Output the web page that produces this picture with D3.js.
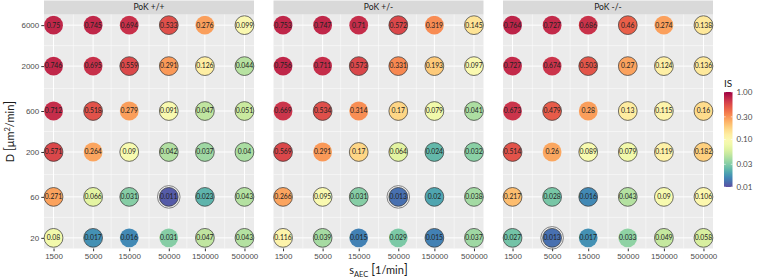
<!DOCTYPE html>
<html>
<head>
<meta charset="utf-8">
<script src="https://cdn.jsdelivr.net/npm/d3@7"></script>
<style>
  body { margin: 0; background: #fff; }
  svg { display: block; font-family: Lato, "DejaVu Sans", sans-serif; }
</style>
</head>
<body>
<div id="chart"></div>
<script>
// s_AEC values (columns) and D values (rows, top to bottom)
const sAEC = [1500, 5000, 15000, 50000, 150000, 500000];
const D = [6000, 2000, 600, 200, 60, 20];
const panels = ["PoK +/+", "PoK +/-", "PoK -/-"];

const isPP = [
  [0.75, 0.745, 0.694, 0.533, 0.276, 0.099],
  [0.746, 0.695, 0.559, 0.291, 0.126, 0.044],
  [0.712, 0.518, 0.279, 0.091, 0.047, 0.051],
  [0.571, 0.264, 0.09, 0.042, 0.037, 0.04],
  [0.271, 0.066, 0.031, 0.011, 0.023, 0.043],
  [0.08, 0.017, 0.016, 0.031, 0.047, 0.043]
];
const isPM = [
  [0.753, 0.747, 0.71, 0.572, 0.319, 0.145],
  [0.756, 0.711, 0.573, 0.331, 0.193, 0.097],
  [0.669, 0.534, 0.314, 0.17, 0.079, 0.041],
  [0.569, 0.291, 0.17, 0.064, 0.024, 0.032],
  [0.266, 0.095, 0.031, 0.013, 0.02, 0.038],
  [0.116, 0.039, 0.015, 0.029, 0.015, 0.037]
];
const isMM = [
  [0.764, 0.727, 0.686, 0.46, 0.274, 0.138],
  [0.727, 0.674, 0.503, 0.27, 0.124, 0.136],
  [0.673, 0.479, 0.28, 0.13, 0.115, 0.16],
  [0.514, 0.26, 0.089, 0.079, 0.119, 0.182],
  [0.217, 0.028, 0.016, 0.043, 0.09, 0.106],
  [0.027, 0.013, 0.017, 0.033, 0.049, 0.058]
];
// cells drawn with a black outline
const outlined = [
  [0, 0, 0, 1, 0, 1],
  [0, 0, 1, 1, 1, 1],
  [0, 1, 0, 1, 1, 1],
  [1, 0, 1, 1, 1, 1],
  [1, 1, 1, 1, 1, 1],
  [1, 1, 0, 0, 1, 1]
];
const legendTicks = [1, 0.3, 0.1, 0.03, 0.01];

const values = [isPP, isPM, isMM];

const width = 758, height = 280;
const panelW = 210, panelTop = 14.5, panelBottom = 248.5, stripH = 14;
const panelX = [44, 273.5, 503];

const svg = d3.select("#chart").append("svg")
  .attr("width", width).attr("height", height);

// log scales with 5% expansion like ggplot
function expanded(lo, hi) {
  const a = Math.log10(lo), b = Math.log10(hi), e = (b - a) * 0.05;
  return [Math.pow(10, a - e), Math.pow(10, b + e)];
}
const y = d3.scaleLog(expanded(20, 6000), [panelBottom, panelTop]);
const color = d3.scaleSequentialLog(t => d3.interpolateSpectral(1 - t)).domain([0.01, 1]);

function geoMid(a, b) { return Math.sqrt(a * b); }
const xMinor = d3.pairs(sAEC).map(p => geoMid(p[0], p[1]));
const yMinor = d3.pairs(D).map(p => geoMid(p[0], p[1]));

panels.forEach((name, pi) => {
  const x0 = panelX[pi];
  const x = d3.scaleLog(expanded(1500, 500000), [x0, x0 + panelW]);
  const g = svg.append("g");

  g.append("rect").attr("x", x0).attr("y", panelTop)
    .attr("width", panelW).attr("height", panelBottom - panelTop).attr("fill", "#ebebeb");

  // strip
  g.append("rect").attr("x", x0).attr("y", panelTop - stripH)
    .attr("width", panelW).attr("height", stripH).attr("fill", "#d9d9d9");
  g.append("text").attr("x", x0 + panelW / 2).attr("y", panelTop - stripH / 2)
    .attr("dy", "0.35em").attr("text-anchor", "middle")
    .attr("font-size", 8.5).attr("fill", "#1a1a1a").text(name);

  // grid
  g.selectAll(".xminor").data(xMinor).join("line")
    .attr("x1", d => x(d)).attr("x2", d => x(d))
    .attr("y1", panelTop).attr("y2", panelBottom)
    .attr("stroke", "#fff").attr("stroke-width", 0.5);
  g.selectAll(".yminor").data(yMinor).join("line")
    .attr("y1", d => y(d)).attr("y2", d => y(d))
    .attr("x1", x0).attr("x2", x0 + panelW)
    .attr("stroke", "#fff").attr("stroke-width", 0.5);
  g.selectAll(".xmajor").data(sAEC).join("line")
    .attr("x1", d => x(d)).attr("x2", d => x(d))
    .attr("y1", panelTop).attr("y2", panelBottom)
    .attr("stroke", "#fff").attr("stroke-width", 1);
  g.selectAll(".ymajor").data(D).join("line")
    .attr("y1", d => y(d)).attr("y2", d => y(d))
    .attr("x1", x0).attr("x2", x0 + panelW)
    .attr("stroke", "#fff").attr("stroke-width", 1);

  // x axis
  const xa = g.append("g")
    .attr("transform", `translate(0,${panelBottom})`)
    .call(d3.axisBottom(x).tickValues(sAEC).tickFormat(d => d).tickSize(2.75).tickPadding(2));
  xa.select(".domain").remove();
  xa.selectAll("line").attr("stroke", "#333");
  xa.selectAll("text").attr("fill", "#4d4d4d").attr("font-size", 8).attr("font-family", null);

  if (pi === 0) {
    const ya = g.append("g")
      .attr("transform", `translate(${x0},0)`)
      .call(d3.axisLeft(y).tickValues(D).tickFormat(d => d).tickSize(2.75).tickPadding(2));
    ya.select(".domain").remove();
    ya.selectAll("line").attr("stroke", "#333");
    ya.selectAll("text").attr("fill", "#4d4d4d").attr("font-size", 8).attr("font-family", null);
  }

  const cells = [];
  values[pi].forEach((row, ri) => row.forEach((v, ci) => {
    cells.push({ s: sAEC[ci], d: D[ri], v: v, ring: outlined[ri][ci] });
  }));
  const minV = d3.min(cells, c => c.v);

  g.selectAll(".outer").data(cells.filter(c => c.v === minV)).join("circle")
    .attr("cx", c => x(c.s)).attr("cy", c => y(c.d)).attr("r", 11.3)
    .attr("fill", "none").attr("stroke", "#555").attr("stroke-width", 0.7);

  g.selectAll(".dot").data(cells).join("circle")
    .attr("cx", c => x(c.s)).attr("cy", c => y(c.d)).attr("r", 9.4)
    .attr("fill", c => color(c.v))
    .attr("stroke", c => c.ring ? "#333" : "none")
    .attr("stroke-width", 0.7);

  g.selectAll(".lab").data(cells).join("text")
    .attr("x", c => x(c.s)).attr("y", c => y(c.d)).attr("dy", "0.35em")
    .attr("text-anchor", "middle").attr("font-size", 6.8).attr("fill", "#222")
    .text(c => String(c.v));
});

// axis titles
const yt = svg.append("text")
  .attr("transform", `translate(14,${(panelTop + panelBottom) / 2}) rotate(-90)`)
  .attr("text-anchor", "middle").attr("font-size", 11).attr("fill", "#1a1a1a");
yt.append("tspan").text("D ");
yt.append("tspan").attr("font-size", 12.5).text("[");
yt.append("tspan").text("μm");
yt.append("tspan").attr("font-size", 7.5).attr("dy", -4).text("2");
yt.append("tspan").attr("dy", 4).text("/min");
yt.append("tspan").attr("font-size", 12.5).text("]");

const xt = svg.append("text")
  .attr("x", (panelX[0] + panelX[2] + panelW) / 2).attr("y", 274)
  .attr("text-anchor", "middle").attr("font-size", 11).attr("fill", "#1a1a1a");
xt.append("tspan").text("s");
xt.append("tspan").attr("font-size", 7.5).attr("dy", 2.5).text("AEC");
xt.append("tspan").attr("dy", -2.5).text(" ");
xt.append("tspan").attr("font-size", 12.5).text("[");
xt.append("tspan").text("1/min");
xt.append("tspan").attr("font-size", 12.5).text("]");

// colour bar legend
const barX = 724, barW = 8.5, barTop = 92, barBottom = 187;
const ly = d3.scaleLog([0.01, 1], [barBottom, barTop]);
const grad = svg.append("defs").append("linearGradient")
  .attr("id", "isgrad").attr("x1", 0).attr("x2", 0).attr("y1", 1).attr("y2", 0);
d3.range(0, 1.0001, 0.05).forEach(t => {
  grad.append("stop").attr("offset", t).attr("stop-color", d3.interpolateSpectral(1 - t));
});
svg.append("text").attr("x", barX).attr("y", 87).attr("font-size", 10)
  .attr("fill", "#1a1a1a").text("IS");
svg.append("rect").attr("x", barX).attr("y", barTop).attr("width", barW)
  .attr("height", barBottom - barTop).attr("fill", "url(#isgrad)");
svg.selectAll(".lt").data(legendTicks).join("line")
  .attr("x1", barX).attr("x2", barX + 1.7)
  .attr("y1", d => ly(d)).attr("y2", d => ly(d))
  .attr("stroke", "#fff").attr("stroke-width", 0.6);
svg.selectAll(".lt2").data(legendTicks).join("line")
  .attr("x1", barX + barW - 1.7).attr("x2", barX + barW)
  .attr("y1", d => ly(d)).attr("y2", d => ly(d))
  .attr("stroke", "#fff").attr("stroke-width", 0.6);
svg.selectAll(".ll").data(legendTicks).join("text")
  .attr("x", barX + barW + 4).attr("y", d => ly(d)).attr("dy", "0.35em")
  .attr("font-size", 8).attr("fill", "#4d4d4d")
  .text(d => d3.format(".2f")(d));
</script>
</body>
</html>
